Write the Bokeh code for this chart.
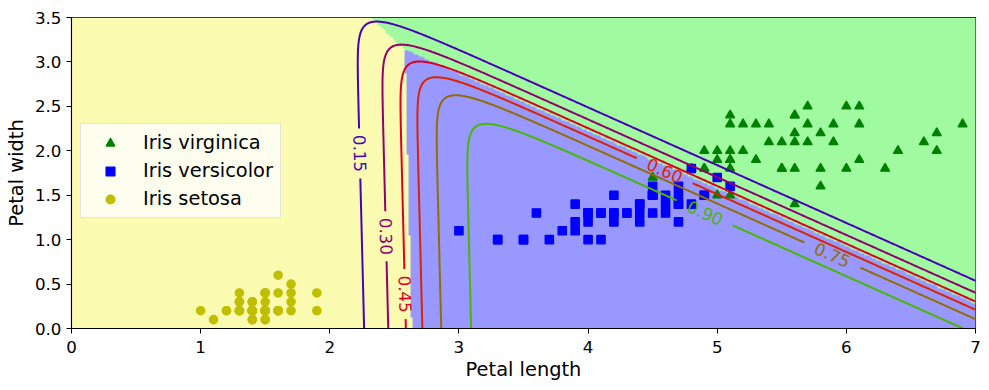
import numpy as np
import contourpy
from bokeh.plotting import figure
from bokeh.models import LinearColorMapper, FixedTicker, Legend, LegendItem
from bokeh.core.properties import value
from bokeh.embed import file_html
from bokeh.resources import INLINE

# ---------------- data (iris petal measurements) ----------------
setosa_length = [1.4, 1.4, 1.3, 1.5, 1.4, 1.7, 1.4, 1.5, 1.4, 1.5,
                 1.5, 1.6, 1.4, 1.1, 1.2, 1.5, 1.3, 1.4, 1.7, 1.5,
                 1.7, 1.5, 1.0, 1.7, 1.9, 1.6, 1.6, 1.5, 1.4, 1.6,
                 1.6, 1.5, 1.5, 1.4, 1.5, 1.2, 1.3, 1.4, 1.3, 1.5,
                 1.3, 1.3, 1.3, 1.6, 1.9, 1.4, 1.6, 1.4, 1.5, 1.4]
setosa_width = [0.2, 0.2, 0.2, 0.2, 0.2, 0.4, 0.3, 0.2, 0.2, 0.1,
                0.2, 0.2, 0.1, 0.1, 0.2, 0.4, 0.4, 0.3, 0.3, 0.3,
                0.2, 0.4, 0.2, 0.5, 0.2, 0.2, 0.4, 0.2, 0.2, 0.2,
                0.2, 0.4, 0.1, 0.2, 0.2, 0.2, 0.2, 0.1, 0.2, 0.2,
                0.3, 0.3, 0.2, 0.6, 0.4, 0.3, 0.2, 0.2, 0.2, 0.2]
versicolor_length = [4.7, 4.5, 4.9, 4.0, 4.6, 4.5, 4.7, 3.3, 4.6, 3.9,
                     3.5, 4.2, 4.0, 4.7, 3.6, 4.4, 4.5, 4.1, 4.5, 3.9,
                     4.8, 4.0, 4.9, 4.7, 4.3, 4.4, 4.8, 5.0, 4.5, 3.5,
                     3.8, 3.7, 3.9, 5.1, 4.5, 4.5, 4.7, 4.4, 4.1, 4.0,
                     4.4, 4.6, 4.0, 3.3, 4.2, 4.2, 4.2, 4.3, 3.0, 4.1]
versicolor_width = [1.4, 1.5, 1.5, 1.3, 1.5, 1.3, 1.6, 1.0, 1.3, 1.4,
                    1.0, 1.5, 1.0, 1.4, 1.3, 1.4, 1.5, 1.0, 1.5, 1.1,
                    1.8, 1.3, 1.5, 1.2, 1.3, 1.4, 1.4, 1.7, 1.5, 1.0,
                    1.1, 1.0, 1.2, 1.6, 1.5, 1.6, 1.5, 1.3, 1.3, 1.3,
                    1.2, 1.4, 1.2, 1.0, 1.3, 1.2, 1.3, 1.3, 1.1, 1.3]
virginica_length = [6.0, 5.1, 5.9, 5.6, 5.8, 6.6, 4.5, 6.3, 5.8, 6.1,
                    5.1, 5.3, 5.5, 5.0, 5.1, 5.3, 5.5, 6.7, 6.9, 5.0,
                    5.7, 4.9, 6.7, 4.9, 5.7, 6.0, 4.8, 4.9, 5.6, 5.8,
                    6.1, 6.4, 5.6, 5.1, 5.6, 6.1, 5.6, 5.5, 4.8, 5.4,
                    5.6, 5.1, 5.1, 5.9, 5.7, 5.2, 5.0, 5.2, 5.4, 5.1]
virginica_width = [2.5, 1.9, 2.1, 1.8, 2.2, 2.1, 1.7, 1.8, 1.8, 2.5,
                   2.0, 1.9, 2.1, 2.0, 2.4, 2.3, 1.8, 2.2, 2.3, 1.5,
                   2.3, 2.0, 2.0, 1.8, 2.1, 1.8, 1.8, 1.8, 2.1, 1.6,
                   1.9, 2.0, 2.2, 1.5, 1.4, 2.3, 2.4, 1.8, 1.8, 2.1,
                   2.4, 2.3, 1.9, 2.3, 2.5, 2.3, 1.9, 2.0, 2.3, 1.8]

contour_levels = [0.15, 0.30, 0.45, 0.60, 0.75, 0.90]
x_ticks = [0, 1, 2, 3, 4, 5, 6, 7]
y_ticks = [0.0, 0.5, 1.0, 1.5, 2.0, 2.5, 3.0, 3.5]
y_tick_labels = ["0.0", "0.5", "1.0", "1.5", "2.0", "2.5", "3.0", "3.5"]

# ---------------- styles ----------------
bg_colors = ["#fafab0", "#9898ff", "#a0faa0"]
level_colors = ["#4900b6", "#92006d", "#db0024", "#db2400", "#926d00", "#49b600"]
# approximate inline label anchors (data coords) and gap half-lengths (px)
label_anchor = [(2.248, 1.97), (2.447, 1.046), (2.578, 0.383),
                (4.596, 1.772), (5.889, 0.827), (4.906, 1.305)]
label_halfgap = [23.5, 23.5, 23.5, 30, 30, 30]

# ---------------- softmax regression (C=10) fit ----------------
X = np.column_stack([setosa_length + versicolor_length + virginica_length,
                     setosa_width + versicolor_width + virginica_width])
y = np.array([0] * len(setosa_length) + [1] * len(versicolor_length) + [2] * len(virginica_length))
C = 10.0
Xa = np.column_stack([X, np.ones(len(X))])
Y = np.eye(3)[y]
theta = np.zeros((3, 3))
pen = np.array([1.0, 1.0, 0.0]) / C


def softmax(Z):
    Z = Z - Z.max(axis=1, keepdims=True)
    E = np.exp(Z)
    return E / E.sum(axis=1, keepdims=True)


for _ in range(60):
    P = softmax(Xa @ theta.T)
    G = (P - Y).T @ Xa + theta * pen
    S = np.einsum('ik,kl->ikl', P, np.eye(3)) - np.einsum('ik,il->ikl', P, P)
    H = np.einsum('ikl,ia,ib->kalb', S, Xa, Xa).reshape(9, 9) + np.diag(np.tile(pen, 3))
    step = np.linalg.pinv(H) @ G.ravel()
    theta -= step.reshape(3, 3)

x0 = np.linspace(0, 8, 500)
x1 = np.linspace(0, 3.5, 200)
g0, g1 = np.meshgrid(x0, x1)
grid = np.column_stack([g0.ravel(), g1.ravel(), np.ones(g0.size)])
proba = softmax(grid @ theta.T)
zz = proba.argmax(axis=1).reshape(g0.shape).astype(float)
zz1 = proba[:, 1].reshape(g0.shape)

# ---------------- figure ----------------
FW, FH = 904, 311
sx, sy = FW / 7.0, FH / 3.5

p = figure(frame_width=FW, frame_height=FH, x_range=(0, 7), y_range=(0, 3.5),
           output_backend="svg", toolbar_location=None,
           min_border_left=71, min_border_right=12, min_border_top=17, min_border_bottom=56)
p.grid.visible = False
p.outline_line_color = "black"
p.outline_line_width = 1.1
p.background_fill_color = "white"

p.image(image=[zz], x=0, y=0, dw=8, dh=3.5,
        color_mapper=LinearColorMapper(palette=bg_colors, low=-0.5, high=2.5))

# contour lines with inline label gaps
gen = contourpy.contour_generator(x=x0, y=x1, z=zz1, line_type="Separate")
seg_xs, seg_ys, seg_cols = [], [], []
lab_x, lab_y, lab_t, lab_a, lab_c = [], [], [], [], []
for lev, col, (ax_, ay_), hg in zip(contour_levels, level_colors, label_anchor, label_halfgap):
    lines = gen.lines(lev)
    best = None
    for li, ln in enumerate(lines):
        d = (ln[:, 0] * sx - ax_ * sx) ** 2 + (ln[:, 1] * sy - ay_ * sy) ** 2
        k = int(d.argmin())
        if best is None or d[k] < best[0]:
            best = (d[k], li, k)
    for li, ln in enumerate(lines):
        if best is None or li != best[1]:
            seg_xs.append(list(ln[:, 0])); seg_ys.append(list(ln[:, 1])); seg_cols.append(col)
            continue
        px, py = ln[:, 0] * sx, ln[:, 1] * sy
        s = np.concatenate([[0], np.cumsum(np.hypot(np.diff(px), np.diff(py)))])
        s0 = s[best[2]]
        keep_a = s < s0 - hg
        keep_b = s > s0 + hg
        for m in (keep_a, keep_b):
            if m.sum() > 1:
                seg_xs.append(list(ln[m, 0])); seg_ys.append(list(ln[m, 1])); seg_cols.append(col)
        xa, ya = np.interp(s0 - 8, s, px), np.interp(s0 - 8, s, py)
        xb, yb = np.interp(s0 + 8, s, px), np.interp(s0 + 8, s, py)
        ang = np.arctan2(yb - ya, xb - xa)
        if ang >= np.pi / 2 - 1e-3:
            ang -= np.pi
        if ang < -np.pi / 2 - 1e-3:
            ang += np.pi
        lab_x.append(np.interp(s0, s, ln[:, 0])); lab_y.append(np.interp(s0, s, ln[:, 1]))
        lab_t.append(f"{lev:.2f}"); lab_a.append(float(ang)); lab_c.append(col)

r_virg = p.scatter(virginica_length, virginica_width, marker="triangle", size=9,
                   fill_color="green", line_color="green", line_width=1.3)
r_vers = p.scatter(versicolor_length, versicolor_width, marker="square", size=8.3,
                   fill_color="blue", line_color="blue", line_width=1.3)
r_set = p.scatter(setosa_length, setosa_width, marker="circle", size=8.3,
                  fill_color="#bfbf00", line_color="#bfbf00", line_width=1.3)

p.multi_line(seg_xs, seg_ys, line_color=seg_cols, line_width=2)
p.text(lab_x, lab_y, text=lab_t, angle=lab_a, text_color=lab_c,
       text_font=value("DejaVu Sans"), text_font_size="16.7px",
       text_align="center", text_baseline="middle")

# axes
p.xaxis.ticker = FixedTicker(ticks=x_ticks)
p.yaxis.ticker = FixedTicker(ticks=y_ticks)
p.yaxis.major_label_overrides = {t: l for t, l in zip(y_ticks, y_tick_labels)}
for ax in (p.xaxis[0], p.yaxis[0]):
    ax.axis_line_color = "black"
    ax.axis_line_width = 1.1
    ax.major_tick_out = 5
    ax.major_tick_in = 0
    ax.minor_tick_out = 0
    ax.minor_tick_in = 0
    ax.major_tick_line_color = "black"
    ax.major_label_text_font = "DejaVu Sans"
    ax.major_label_text_font_size = "16.7px"
    ax.major_label_text_color = "black"
    ax.major_label_standoff = 5
    ax.axis_label_text_font = "DejaVu Sans"
    ax.axis_label_text_font_size = "19.4px"
    ax.axis_label_text_font_style = "normal"
    ax.axis_label_text_color = "black"
p.xaxis.axis_label = "Petal length"
p.yaxis.axis_label = "Petal width"
p.xaxis.major_label_standoff = 7
p.xaxis.axis_label_standoff = 2
p.yaxis.axis_label_standoff = 4

legend = Legend(items=[LegendItem(label="Iris virginica", renderers=[r_virg]),
                       LegendItem(label="Iris versicolor", renderers=[r_vers]),
                       LegendItem(label="Iris setosa", renderers=[r_set])],
                location=(9, 110))
legend.label_text_font = "DejaVu Sans"
legend.label_text_font_size = "19.4px"
legend.label_text_color = "black"
legend.glyph_width = 44
legend.glyph_height = 22
legend.label_height = 22
legend.label_standoff = 11
legend.spacing = 5
legend.padding = 7
legend.margin = 0
legend.border_line_color = "#cccccc"
legend.border_line_width = 1.3
legend.background_fill_color = "white"
legend.background_fill_alpha = 0.8
p.add_layout(legend)

open("out.html", "w").write(file_html(p, INLINE))
